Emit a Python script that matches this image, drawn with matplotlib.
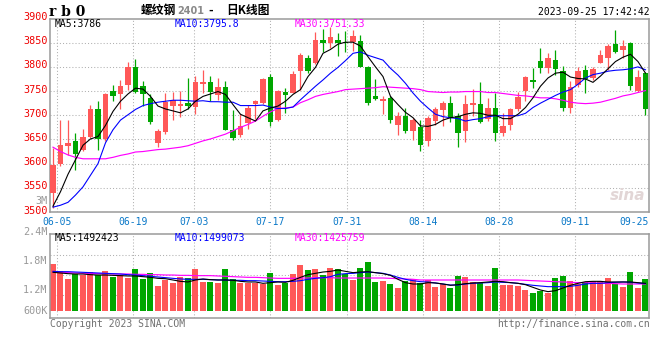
import matplotlib
matplotlib.use("Agg")
import matplotlib.pyplot as plt
import matplotlib.transforms as mtransforms
import numpy as np

# daily candles rb0, 2023-06-02 .. 2023-09-25 (80 sessions)
opens = [3540, 3600, 3637, 3647, 3628, 3656, 3712, 3651, 3751, 3743,
         3763, 3800, 3761, 3736, 3643, 3666, 3719, 3720, 3726, 3717,
         3765, 3768, 3741, 3758, 3669, 3659, 3685, 3723, 3726, 3779,
         3690, 3749, 3747, 3792, 3819, 3807, 3856, 3850, 3856, 3851,
         3852, 3854, 3800, 3740, 3730, 3735, 3680, 3699, 3668, 3676,
         3647, 3689, 3711, 3726, 3699, 3668, 3722, 3723, 3692, 3716,
         3664, 3680, 3712, 3750, 3773, 3812, 3798, 3814, 3791, 3716,
         3762, 3794, 3778, 3809, 3819, 3847, 3834, 3850, 3751, 3788]
highs = [3632, 3690, 3690, 3664, 3672, 3722, 3729, 3746, 3763, 3772,
         3811, 3816, 3771, 3743, 3671, 3746, 3749, 3751, 3777, 3781,
         3793, 3781, 3777, 3771, 3710, 3702, 3721, 3732, 3778, 3785,
         3752, 3756, 3792, 3828, 3824, 3872, 3878, 3883, 3869, 3875,
         3877, 3866, 3801, 3775, 3740, 3739, 3707, 3714, 3695, 3691,
         3698, 3718, 3730, 3740, 3704, 3742, 3754, 3769, 3735, 3746,
         3704, 3716, 3748, 3781, 3798, 3840, 3829, 3835, 3802, 3771,
         3800, 3804, 3800, 3835, 3847, 3876, 3855, 3852, 3794, 3790]
lows = [3508, 3596, 3617, 3586, 3626, 3654, 3629, 3647, 3729, 3712,
        3753, 3746, 3719, 3681, 3634, 3661, 3690, 3697, 3713, 3702,
        3745, 3729, 3732, 3669, 3649, 3656, 3671, 3692, 3724, 3678,
        3689, 3705, 3746, 3753, 3787, 3806, 3831, 3838, 3823, 3831,
        3833, 3799, 3721, 3731, 3702, 3685, 3659, 3663, 3649, 3627,
        3637, 3679, 3678, 3687, 3634, 3644, 3698, 3683, 3689, 3647,
        3657, 3670, 3709, 3730, 3757, 3787, 3788, 3784, 3709, 3705,
        3759, 3745, 3773, 3807, 3793, 3829, 3819, 3752, 3749, 3700]
closes = [3598, 3638, 3643, 3620, 3655, 3712, 3651, 3743, 3739, 3761,
          3800, 3749, 3743, 3686, 3667, 3727, 3731, 3724, 3720, 3768,
          3769, 3749, 3758, 3670, 3654, 3678, 3715, 3729, 3775, 3686,
          3751, 3741, 3785, 3824, 3792, 3856, 3850, 3862, 3850, 3849,
          3864, 3800, 3726, 3734, 3733, 3690, 3699, 3668, 3690, 3638,
          3695, 3713, 3726, 3697, 3664, 3723, 3725, 3687, 3714, 3664,
          3678, 3712, 3738, 3780, 3769, 3798, 3819, 3795, 3716, 3759,
          3791, 3774, 3795, 3825, 3843, 3831, 3843, 3761, 3780, 3713]

ma5 = [3512, 3542, 3578, 3608, 3638, 3651, 3656, 3679, 3708, 3729,
       3744, 3756, 3754, 3739, 3719, 3713, 3709, 3705, 3713, 3729,
       3739, 3744, 3749, 3743, 3722, 3702, 3695, 3688, 3709, 3715,
       3719, 3729, 3743, 3753, 3780, 3799, 3828, 3836, 3847, 3851,
       3851, 3843, 3821, 3800, 3780, 3739, 3722, 3706, 3695, 3678,
       3677, 3681, 3690, 3695, 3697, 3702, 3705, 3704, 3700, 3700,
       3693, 3693, 3702, 3716, 3736, 3760, 3777, 3787, 3789, 3779,
       3776, 3775, 3768, 3781, 3796, 3811, 3820, 3826, 3811, 3787]
ma10 = [3510, 3514, 3520, 3535, 3552, 3576, 3600, 3643, 3670, 3690,
        3701, 3712, 3720, 3724, 3727, 3729, 3731, 3731, 3730, 3729,
        3730, 3728, 3728, 3727, 3727, 3720, 3720, 3720, 3721, 3717,
        3714, 3714, 3717, 3732, 3746, 3760, 3773, 3787, 3799, 3813,
        3828, 3831, 3824, 3819, 3814, 3797, 3783, 3766, 3746, 3729,
        3715, 3702, 3697, 3695, 3693, 3688, 3691, 3693, 3697, 3699,
        3699, 3699, 3699, 3704, 3716, 3725, 3733, 3741, 3748, 3753,
        3764, 3777, 3784, 3787, 3791, 3793, 3794, 3796, 3800, 3794]
ma30 = [3634, 3625, 3618, 3613, 3610, 3610, 3610, 3610, 3613, 3617,
        3620, 3624, 3625, 3627, 3629, 3630, 3632, 3634, 3637, 3642,
        3647, 3651, 3656, 3661, 3668, 3675, 3681, 3688, 3698, 3707,
        3714, 3715, 3717, 3726, 3732, 3739, 3743, 3746, 3749, 3753,
        3754, 3755, 3756, 3757, 3759, 3758, 3757, 3756, 3755, 3753,
        3749, 3748, 3747, 3748, 3748, 3749, 3749, 3749, 3747, 3747,
        3745, 3743, 3741, 3740, 3738, 3736, 3736, 3734, 3731, 3727,
        3725, 3724, 3725, 3727, 3731, 3735, 3740, 3743, 3747, 3751]

# volume, thousand lots
volume = [1738, 1593, 1428, 1537, 1510, 1579, 1510, 1599, 1469, 1517,
          1455, 1634, 1428, 1552, 1283, 1407, 1345, 1469, 1448, 1634,
          1366, 1366, 1345, 1634, 1428, 1345, 1345, 1345, 1324, 1552,
          1303, 1345, 1531, 1717, 1614, 1634, 1510, 1655, 1634, 1531,
          1407, 1655, 1779, 1366, 1386, 1324, 1241, 1386, 1428, 1339,
          1407, 1262, 1324, 1241, 1490, 1469, 1366, 1345, 1283, 1655,
          1303, 1303, 1283, 1200, 1138, 1179, 1138, 1448, 1490, 1386,
          1324, 1366, 1386, 1386, 1448, 1324, 1262, 1572, 1241, 1428]
vma5 = [1566, 1552, 1538, 1531, 1531, 1517, 1510, 1510, 1503, 1497,
        1490, 1490, 1476, 1462, 1441, 1434, 1407, 1379, 1366, 1407,
        1428, 1414, 1407, 1407, 1400, 1379, 1366, 1366, 1338, 1352,
        1366, 1359, 1400, 1462, 1517, 1545, 1572, 1586, 1614, 1586,
        1559, 1572, 1579, 1559, 1538, 1503, 1421, 1352, 1324, 1324,
        1352, 1345, 1324, 1297, 1310, 1331, 1345, 1352, 1366, 1379,
        1372, 1352, 1338, 1310, 1255, 1200, 1166, 1186, 1241, 1297,
        1338, 1372, 1379, 1379, 1366, 1366, 1366, 1366, 1352, 1338]
vma10 = [1586, 1579, 1579, 1572, 1566, 1559, 1552, 1545, 1538, 1531,
         1517, 1510, 1497, 1483, 1469, 1455, 1441, 1428, 1421, 1421,
         1421, 1414, 1407, 1407, 1400, 1400, 1393, 1393, 1386, 1379,
         1372, 1372, 1379, 1393, 1421, 1441, 1455, 1476, 1524, 1538,
         1545, 1559, 1572, 1559, 1545, 1510, 1462, 1421, 1393, 1372,
         1366, 1345, 1324, 1303, 1303, 1324, 1338, 1345, 1352, 1366,
         1359, 1352, 1338, 1317, 1297, 1283, 1269, 1269, 1269, 1276,
         1297, 1324, 1338, 1338, 1352, 1359, 1366, 1359, 1345, 1331]
vma30 = [1572, 1566, 1559, 1552, 1545, 1545, 1538, 1538, 1531, 1531,
         1531, 1524, 1524, 1517, 1517, 1510, 1510, 1503, 1503, 1497,
         1497, 1497, 1490, 1483, 1476, 1469, 1462, 1462, 1455, 1448,
         1441, 1441, 1441, 1448, 1448, 1455, 1455, 1455, 1448, 1448,
         1448, 1448, 1448, 1448, 1448, 1441, 1434, 1428, 1421, 1407,
         1407, 1407, 1407, 1407, 1407, 1407, 1407, 1407, 1407, 1407,
         1407, 1407, 1407, 1400, 1393, 1386, 1379, 1372, 1366, 1359,
         1352, 1352, 1345, 1338, 1338, 1331, 1324, 1324, 1324, 1324]

date_labels = ["06-05", "06-19", "07-03", "07-17", "07-31", "08-14", "08-28", "09-11"]
date_index = [1, 11, 19, 29, 39, 49, 59, 69]
last_label = "09-25"
price_levels = [3500, 3550, 3600, 3650, 3700, 3750, 3800, 3850, 3900]
vol_labels = ["3M", "2.4M", "1.8M", "1.2M", "600K"]

RED = "#ff5858"
GREEN = "#00a600"
GRID = "#b0b0b0"
BORDER = "#9a9a9a"
MONO = "DejaVu Sans Mono"
W, H = 660, 360


def vol_at_px(y):
    # volume panel pixel scale: 600K per 29 px, 600K level at y=319
    return 600 + (319 - y) * 600 / 29


fig = plt.figure(figsize=(6.6, 3.6), dpi=100)
fig.patch.set_facecolor("white")

ax_p = fig.add_axes([50 / W, 1 - 212 / H, 599 / W, 193.5 / H])
ax_v = fig.add_axes([50 / W, 1 - 317.7 / H, 599 / W, 83.4 / H])

x = np.arange(len(closes))
o = np.array(opens)
c = np.array(closes)
up = c >= o
colors = np.where(up, RED, GREEN)
grid_x = [k * 1.0152 - 0.445 for k in date_index]

for ax in (ax_p, ax_v):
    ax.set_xlim(-0.4, 79.47)
    ax.set_xticks([])
    ax.set_yticks([])
    for s in ax.spines.values():
        s.set_color(BORDER)
        s.set_linewidth(1.1)
    for gx in grid_x:
        ax.axvline(gx, color=GRID, lw=0.75, ls=(0, (1, 2)), zorder=0)

# price panel
ax_p.set_ylim(3500, 3900)
for lv in price_levels[1:-1]:
    ax_p.axhline(lv, color=GRID, lw=0.75, ls=(0, (1, 2)), zorder=0)

ax_p.vlines(x, lows, highs, colors=colors, lw=0.9, zorder=2)
body_h = np.maximum(np.abs(c - o), 1.6)
ax_p.bar(x, body_h, bottom=np.minimum(o, c), width=0.74, color=colors,
         lw=0, zorder=3)
ax_p.plot(x, ma30, color="#ff00ff", lw=0.85, zorder=4)
ax_p.plot(x, ma10, color="#0000ff", lw=0.8, zorder=4)
ax_p.plot(x, ma5, color="black", lw=0.8, zorder=5)

lab_off = mtransforms.offset_copy(ax_p.transData, fig=fig, x=0, y=1.5, units="dots")
for lv in price_levels:
    ax_p.text(-0.75, lv, str(lv), transform=lab_off, ha="right", va="center",
              color="#ee0000", fontsize=7.3, family=MONO, clip_on=False)

ax_p.text(5 / 599, 1 - 5.5 / 193.5, "MA5:3786", transform=ax_p.transAxes,
          ha="left", va="center", fontsize=7, family=MONO, color="black")
ax_p.text(124.3 / 599, 1 - 5.5 / 193.5, "MA10:3795.8", transform=ax_p.transAxes,
          ha="left", va="center", fontsize=7, family=MONO, color="#0000ff")
ax_p.text(244.3 / 599, 1 - 5.5 / 193.5, "MA30:3751.33", transform=ax_p.transAxes,
          ha="left", va="center", fontsize=7, family=MONO, color="#ff00ff")

ax_p.text(0.965, 0.085, "sina", transform=ax_p.transAxes, ha="center", va="center",
          fontsize=11, style="italic", weight="bold", color="#e2d6d6", zorder=1)

dlab = mtransforms.blended_transform_factory(ax_p.transData, ax_p.transAxes)
for gx, lab in zip(grid_x, date_labels):
    ax_p.text(gx, -9.7 / 193.5, lab, transform=dlab, ha="center", va="center",
              fontsize=7, family=MONO, color="#0a78c8", clip_on=False)
ax_p.text(1.0, -9.7 / 193.5, last_label, transform=ax_p.transAxes, ha="right",
          va="center", fontsize=7, family=MONO, color="#0a78c8", clip_on=False)

# volume panel
base = vol_at_px(311)
ax_v.set_ylim(vol_at_px(317.7), vol_at_px(234.3))
for gy in (255.3, 275.3, 295.3):
    ax_v.axhline(vol_at_px(gy), color=GRID, lw=0.75, ls=(0, (1, 2)), zorder=0)
vol = np.array(volume)
ax_v.bar(x, vol - base, bottom=base, width=0.8, color=colors, lw=0, zorder=2)
ax_v.plot(x, vma30, color="#ff00ff", lw=0.85, zorder=3)
ax_v.plot(x, vma10, color="#0000ff", lw=0.8, zorder=3)
ax_v.plot(x, vma5, color="black", lw=0.8, zorder=4)

vol_pos = [vol_at_px(201), vol_at_px(232), vol_at_px(261), vol_at_px(290), vol_at_px(311)]
for vp, lab in zip(vol_pos, vol_labels):
    ax_v.text(-0.75, vp, lab, ha="right", va="center", fontsize=7.3, family=MONO,
              color="#999999", clip_on=False)

ax_v.text(5 / 599, 1 - 4 / 83.4, "MA5:1492423", transform=ax_v.transAxes,
          ha="left", va="center", fontsize=7, family=MONO, color="black")
ax_v.text(124.3 / 599, 1 - 4 / 83.4, "MA10:1499073", transform=ax_v.transAxes,
          ha="left", va="center", fontsize=7, family=MONO, color="#0000ff")
ax_v.text(244.3 / 599, 1 - 4 / 83.4, "MA30:1425759", transform=ax_v.transAxes,
          ha="left", va="center", fontsize=7, family=MONO, color="#ff00ff")

# header and footer
fig.text(49 / W, 1 - 12 / H, "r b 0", ha="left", va="center", fontsize=10,
         family="DejaVu Serif", weight="bold", color="black")
fig.text(141 / W, 1 - 10.5 / H, "螺纹钢", ha="left", va="center", fontsize=8.5,
         family=["Noto Sans CJK SC", "DejaVu Sans"], weight="bold", color="black")
fig.text(177 / W, 1 - 11 / H, "2401", ha="left", va="center", fontsize=7,
         family="DejaVu Sans", weight="bold", color="#8a8a8a")
fig.text(208 / W, 1 - 11 / H, "-", ha="left", va="center", fontsize=8,
         family="DejaVu Sans", weight="bold", color="black")
fig.text(226 / W, 1 - 10.5 / H, "日K线图", ha="left", va="center", fontsize=8.5,
         family=["Noto Sans CJK SC", "DejaVu Sans"], weight="bold", color="black")
fig.text(649.5 / W, 1 - 12 / H, "2023-09-25 17:42:42", ha="right", va="center",
         fontsize=7, family=MONO, color="black")

fig.text(50 / W, 1 - 324 / H, "Copyright 2023 SINA.COM", ha="left", va="center",
         fontsize=7, family=MONO, color="#707070")
fig.text(649.5 / W, 1 - 324 / H, "http://finance.sina.com.cn", ha="right",
         va="center", fontsize=7, family=MONO, color="#707070")

fig.savefig("out.png", dpi=100, facecolor="white")
